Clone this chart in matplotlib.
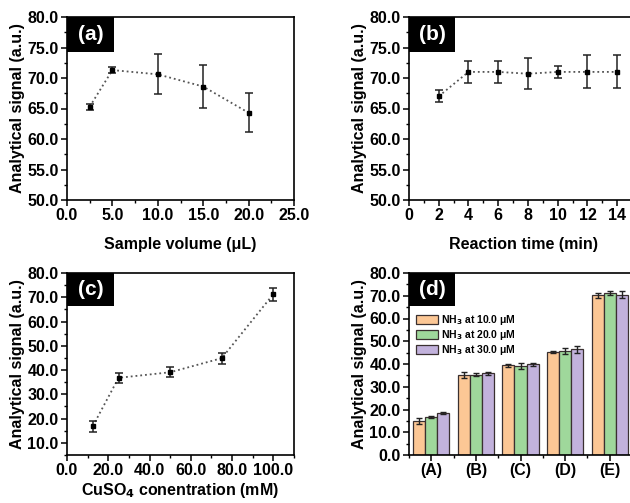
import numpy as np
from matplotlib import pyplot as plt
from matplotlib.patches import Rectangle
from matplotlib.ticker import MultipleLocator, FormatStrFormatter

plt.rcParams['font.family'] = ['Liberation Sans', 'DejaVu Sans']
plt.rcParams['font.weight'] = 'bold'
plt.rcParams['axes.labelweight'] = 'bold'

# (a) объём пробы
vol_x = [2.5, 5.0, 10.0, 15.0, 20.0]
vol_y = [65.3, 71.3, 70.6, 68.6, 64.3]
vol_err = [0.5, 0.5, 3.3, 3.5, 3.2]

# (b) время реакции
time_x = [2, 4, 6, 8, 10, 12, 14]
time_y = [67.0, 71.0, 71.0, 70.7, 71.0, 71.0, 71.0]
time_err = [1.0, 1.8, 1.8, 2.5, 1.0, 2.7, 2.7]

# (c) концентрация CuSO4
cu_x = [12.5, 25.0, 50.0, 75.0, 100.0]
cu_y = [16.9, 36.8, 39.1, 44.9, 71.3]
cu_err = [2.3, 2.1, 2.1, 2.2, 2.7]

# (d) группы
groups = ['(A)', '(B)', '(C)', '(D)', '(E)']
nh3_labels = ['NH$_3$ at 10.0 μM', 'NH$_3$ at 20.0 μM', 'NH$_3$ at 30.0 μM']
nh3_vals = [
    [14.9, 35.0, 39.4, 45.3, 70.2],
    [16.7, 35.3, 39.1, 45.7, 71.2],
    [18.5, 35.9, 39.9, 46.4, 70.5],
]
nh3_err = [
    [1.3, 1.3, 0.7, 0.4, 1.2],
    [0.5, 0.6, 1.5, 1.4, 1.0],
    [0.5, 0.6, 0.6, 1.6, 1.4],
]
bar_colors = ['#fcc795', '#9fd89b', '#c2b2dc']

W, H = 630, 503
fig = plt.figure(figsize=(W / 100, H / 100), dpi=100)


def _axes(left, top, width, height):
    """Оси по пиксельным координатам."""
    return fig.add_axes([left / W, 1 - (top + height) / H, width / W, height / H])


def _setup(ax, xlabel, ymaj, ymin, xmaj, xmin, xfmt='%.1f', xpad=10):
    """Общая настройка оси."""
    ax.set_xlabel(xlabel, fontsize=11.5, labelpad=xpad)
    ax.set_ylabel('Analytical signal (a.u.)', fontsize=11.5, labelpad=2)
    ax.yaxis.set_major_locator(MultipleLocator(ymaj))
    ax.yaxis.set_minor_locator(MultipleLocator(ymin))
    ax.yaxis.set_major_formatter(FormatStrFormatter('%.1f'))
    if xmaj is not None:
        ax.xaxis.set_major_locator(MultipleLocator(xmaj))
        ax.xaxis.set_minor_locator(MultipleLocator(xmin))
        ax.xaxis.set_major_formatter(FormatStrFormatter(xfmt))
    ax.tick_params(which='major', direction='out', length=4, width=1.1,
                   labelsize=11.5, pad=2)
    ax.tick_params(which='minor', direction='out', length=2, width=1.0)
    ax.tick_params(right=False, top=False)
    for s in ax.spines.values():
        s.set_linewidth(1.2)
    for lab in ax.get_xticklabels() + ax.get_yticklabels():
        lab.set_fontweight('bold')


def _tag(ax, text, w_px, h_px):
    """Чёрная плашка с буквой панели."""
    bb = ax.get_position()
    wf = w_px / (bb.width * W)
    hf = h_px / (bb.height * H)
    ax.add_patch(Rectangle((0, 1 - hf), wf, hf, transform=ax.transAxes,
                           facecolor='black', edgecolor='none', zorder=5,
                           clip_on=False))
    ax.text(wf / 2, 1 - hf / 2, text, transform=ax.transAxes, color='white',
            fontsize=15, fontweight='bold', ha='center', va='center', zorder=6)


def _line(ax, x, y, err):
    ax.plot(x, y, linestyle=':', color='#555555', linewidth=1.3, zorder=2)
    ax.errorbar(x, y, yerr=err, fmt='s', color='black', markersize=3.5,
                ecolor='#222222', elinewidth=1.1, capsize=3, capthick=1.1,
                zorder=3)


ax_a = _axes(67, 17, 227, 183)
_line(ax_a, vol_x, vol_y, vol_err)
ax_a.set_xlim(0, 25)
ax_a.set_ylim(50, 80)
_setup(ax_a, 'Sample volume (μL)', 5, 2.5, 5, 2.5)
_tag(ax_a, '(a)', 47, 35)

ax_b = _axes(409, 17, 229, 183)
_line(ax_b, time_x, time_y, time_err)
ax_b.set_xlim(0, 15.4)
ax_b.set_ylim(50, 80)
_setup(ax_b, 'Reaction time (min)', 5, 2.5, 2, 1, '%d')
ax_b.set_xticks(np.arange(0, 15, 2))
_tag(ax_b, '(b)', 46, 35)

ax_c = _axes(67, 273, 227, 182)
_line(ax_c, cu_x, cu_y, cu_err)
ax_c.set_xlim(0, 110)
ax_c.set_ylim(5, 80)
_setup(ax_c, 'CuSO$_4$ conentration (mM)', 10, 5, 20, 10, xpad=2)
ax_c.set_yticks(np.arange(10, 81, 10))
_tag(ax_c, '(c)', 47, 33)

ax_d = _axes(409, 273, 223, 182)
xpos = np.arange(len(groups))
bw = 0.27
for i, (vals, errs) in enumerate(zip(nh3_vals, nh3_err)):
    ax_d.bar(xpos + (i - 1) * bw, vals, width=bw, color=bar_colors[i],
             edgecolor='#3a3030', linewidth=0.9, label=nh3_labels[i],
             yerr=errs, capsize=2.5, error_kw=dict(elinewidth=1, capthick=1,
                                                   ecolor='#222222'))
ax_d.set_xlim(-0.5, 4.5)
ax_d.set_ylim(0, 80)
_setup(ax_d, ' ', 10, 5, None, None)
ax_d.set_xticks(xpos)
ax_d.set_xticklabels(groups, fontweight='bold')
ax_d.xaxis.set_minor_locator(MultipleLocator(0.5))
_tag(ax_d, '(d)', 46, 33)
ax_d.legend(loc='upper left', bbox_to_anchor=(0.01, 0.81), frameon=False,
            handlelength=2.1, handleheight=0.95,
            handletextpad=0.25, labelspacing=0.12, borderaxespad=0.1,
            prop={'weight': 'bold', 'size': 7.5})

fig.savefig('out.png', dpi=100)
